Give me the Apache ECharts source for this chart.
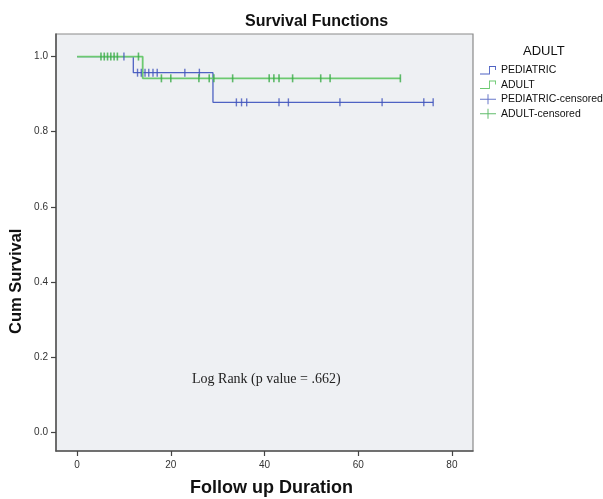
<!DOCTYPE html>
<html>
<head>
<meta charset="utf-8">
<script src="https://cdn.jsdelivr.net/npm/echarts@6/dist/echarts.min.js"></script>
<style>
html,body{margin:0;padding:0;background:#fff;}
#c{width:603px;height:499px;}
</style>
</head>
<body>
<div id="c"></div>
<script>
// ---- data ----
const xTicks = [0, 20, 40, 60, 80];
const yTicks = [0, 0.2, 0.4, 0.6, 0.8, 1.0];
// Kaplan-Meier step points [time, cumulative survival]
const pediatricSteps = [[0, 1], [12, 0.957], [29, 0.878], [76, 0.878]];
const adultSteps = [[0, 1], [14, 0.942], [69, 0.942]];
// censoring times
const pediatricCensored = [10, 12.9, 13.7, 14.5, 15.3, 16.2, 17.1, 23, 26.1, 34, 35.1, 36.2, 43.1, 45.1, 56.1, 65.1, 74, 76];
const adultCensored = [5.1, 5.8, 6.5, 7.2, 7.9, 8.6, 13.1, 18, 20, 26, 28.2, 29.2, 33.2, 41, 42, 43.1, 46, 52, 54, 69];
const seriesNames = ['PEDIATRIC', 'ADULT', 'PEDIATRIC-censored', 'ADULT-censored'];

function survAt(steps, t) {
  let s = steps[0][1];
  for (const p of steps) { if (p[0] <= t) s = p[1]; }
  return s;
}
const blue = '#4e62c3', blueDark = '#4255bb';
const green = '#6cc970', greenDark = '#3aab47';

const stepIcon = 'path://M0,8.6 L9,8.6 L9,1 L16,1 L16,5 L15.1,5 L15.1,1.9 L9.9,1.9 L9.9,9.5 L0,9.5 Z';
const plusIcon = 'path://M0,4.5 L16,4.5 L16,5.5 L0,5.5 Z M7.5,0 L8.5,0 L8.5,10 L7.5,10 Z';

const chart = echarts.init(document.getElementById('c'));
chart.setOption({
  animation: false,
  backgroundColor: '#fff',
  title: [
    { text: 'Survival Functions', left: 240, top: 9,
      textStyle: { fontFamily: 'Liberation Sans, Arial', fontSize: 16, fontWeight: 'bold', color: '#111' } },
    { text: 'ADULT', left: 518, top: 40,
      textStyle: { fontFamily: 'Liberation Sans, Arial', fontSize: 13, fontWeight: 'normal', color: '#111' } }
  ],
  legend: {
    orient: 'vertical', left: 475, top: 59, itemWidth: 16, itemHeight: 10, itemGap: 2,
    textStyle: { fontFamily: 'Liberation Sans, Arial', fontSize: 10.5, color: '#111', lineHeight: 12.5 },
    data: [
      { name: seriesNames[0], icon: stepIcon },
      { name: seriesNames[1], icon: stepIcon },
      { name: seriesNames[2], icon: plusIcon },
      { name: seriesNames[3], icon: plusIcon }
    ]
  },
  grid: { left: 56, top: 34, right: 130, bottom: 48, show: true,
    backgroundColor: '#eef0f3', borderColor: '#8a8a8a', borderWidth: 1.2 },
  xAxis: {
    type: 'value', min: -4.5, max: 84.5,
    axisLine: { show: true, onZero: false, lineStyle: { color: '#555', width: 1.5 } },
    axisTick: { show: true, length: 5, customValues: xTicks, lineStyle: { color: '#444', width: 1.2 } },
    axisLabel: { customValues: xTicks, margin: 9, fontSize: 10, color: '#333', fontFamily: 'Liberation Sans, Arial' },
    splitLine: { show: false }
  },
  yAxis: {
    type: 'value', min: -0.05, max: 1.06,
    axisLine: { show: true, onZero: false, lineStyle: { color: '#555', width: 1.5 } },
    axisTick: { show: true, length: 5, customValues: yTicks, lineStyle: { color: '#444', width: 1.2 } },
    axisLabel: { customValues: yTicks, margin: 8, fontSize: 10, color: '#333', fontFamily: 'Liberation Sans, Arial',
      formatter: v => v.toFixed(1) },
    splitLine: { show: false }
  },
  graphic: [
    { type: 'text', x: 190, y: 479, style: { text: 'Follow up Duration', fill: '#111',
      font: 'bold 18px "Liberation Sans", Arial' } },
    { type: 'text', x: 8, y: 334, rotation: Math.PI / 2, style: { text: 'Cum Survival', fill: '#111',
      font: 'bold 16.5px "Liberation Sans", Arial' } },
    { type: 'text', x: 192, y: 372, style: { text: 'Log Rank (p value = .662)', fill: '#222',
      font: '14px "Liberation Serif", "Times New Roman", serif' } }
  ],
  series: [
    { name: seriesNames[0], type: 'line', step: 'end', data: pediatricSteps, showSymbol: false,
      lineStyle: { color: blue, width: 1.3 }, itemStyle: { color: blue }, z: 2 },
    { name: seriesNames[1], type: 'line', step: 'end', data: adultSteps, showSymbol: false,
      lineStyle: { color: green, width: 1.8 }, itemStyle: { color: green }, z: 3 },
    { name: seriesNames[2], type: 'scatter', symbol: 'rect', symbolSize: [1.4, 8],
      data: pediatricCensored.map(t => [t, survAt(pediatricSteps, t)]),
      itemStyle: { color: blueDark }, z: 4 },
    { name: seriesNames[3], type: 'scatter', symbol: 'rect', symbolSize: [1.6, 8],
      data: adultCensored.map(t => [t, survAt(adultSteps, t)]),
      itemStyle: { color: greenDark }, z: 5 }
  ]
});
</script>
</body>
</html>
